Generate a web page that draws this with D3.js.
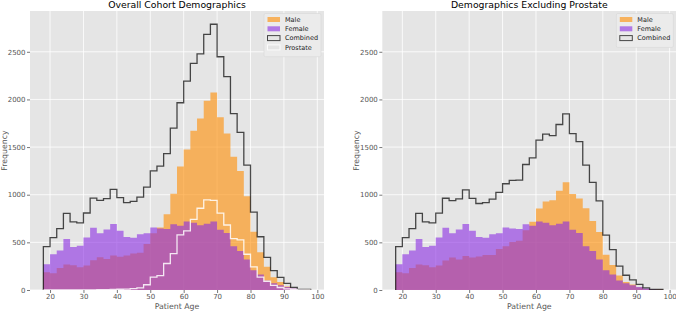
<!DOCTYPE html>
<html>
<head>
<meta charset="utf-8">
<script src="https://cdn.jsdelivr.net/npm/d3@7"></script>
<style>
body { margin: 0; background: #fff; }
svg { display: block; font-family: "DejaVu Sans", sans-serif; }
</style>
</head>
<body>
<script>
// histogram bins, 2 years wide, from 18 to 98
var binStarts = [18, 20, 22, 24, 26, 28, 30, 32, 34, 36, 38, 40, 42, 44, 46, 48, 50, 52, 54, 56,
                 58, 60, 62, 64, 66, 68, 70, 72, 74, 76, 78, 80, 82, 84, 86, 88, 90, 92, 94, 96];
var binWidth = 2;

// overall cohort
var maleAll = [185, 175, 230, 268, 260, 240, 258, 312, 345, 325, 363, 348, 362, 382, 390, 484, 595, 655, 795, 1010,
               1295, 1475, 1672, 1800, 1986, 2072, 1814, 1643, 1398, 1250, 985, 612, 397, 243, 133, 83, 38, 13, 3, 5];
var female = [270, 375, 415, 535, 452, 465, 550, 652, 595, 635, 692, 622, 555, 548, 585, 596, 655, 645, 640, 690,
              673, 720, 705, 680, 695, 720, 632, 598, 458, 408, 320, 206, 162, 100, 70, 50, 32, 15, 4, 2];
var combinedAll = [455, 550, 645, 805, 715, 705, 808, 965, 940, 960, 1056, 970, 918, 930, 975, 1080, 1250, 1300, 1432, 1699,
                   1965, 2192, 2378, 2479, 2682, 2789, 2448, 2240, 1850, 1655, 1311, 818, 559, 343, 203, 133, 70, 28, 7, 7];
var prostate = [0, 0, 0, 0, 0, 1, 1, 2, 3, 4, 6, 8, 10, 14, 22, 55, 135, 150, 278, 382,
                578, 620, 742, 858, 945, 940, 806, 682, 540, 525, 375, 243, 135, 92, 48, 26, 12, 5, 1, 0];

// excluding prostate
var maleExcl = [185, 175, 230, 268, 260, 239, 257, 310, 342, 321, 357, 340, 352, 368, 368, 429, 460, 505, 517, 628,
                717, 855, 930, 942, 1041, 1132, 1008, 961, 858, 725, 610, 369, 262, 151, 85, 57, 26, 8, 2, 5];
var combinedExcl = [455, 550, 645, 805, 715, 704, 807, 963, 937, 956, 1050, 962, 908, 916, 953, 1025, 1115, 1150, 1154, 1317,
                    1387, 1572, 1636, 1621, 1737, 1849, 1642, 1558, 1310, 1130, 936, 575, 424, 251, 155, 107, 58, 23, 6, 7];

var xTicks = [20, 30, 40, 50, 60, 70, 80, 90, 100];
var yTicks = [0, 500, 1000, 1500, 2000, 2500];

var svgWidth = 676, svgHeight = 311;
var plotTop = 11, plotBottom = 290, plotW = 294;

var svg = d3.select("body").append("svg")
    .attr("width", svgWidth)
    .attr("height", svgHeight);

var y = d3.scaleLinear().domain([0, 2928]).range([plotBottom, plotTop]);

function drawPanel(left, title, layers, legendItems) {
    var x = d3.scaleLinear().domain([14, 102]).range([left, left + plotW]);
    var g = svg.append("g");

    g.append("rect")
        .attr("x", left).attr("y", plotTop)
        .attr("width", plotW).attr("height", plotBottom - plotTop)
        .attr("fill", "#e5e5e5");

    // grid
    g.selectAll(".gx").data(xTicks).enter().append("line")
        .attr("x1", d => x(d)).attr("x2", d => x(d))
        .attr("y1", plotTop).attr("y2", plotBottom)
        .attr("stroke", "#fff").attr("stroke-width", 0.8);
    g.selectAll(".gy").data(yTicks).enter().append("line")
        .attr("x1", left).attr("x2", left + plotW)
        .attr("y1", d => y(d)).attr("y2", d => y(d))
        .attr("stroke", "#fff").attr("stroke-width", 0.8);

    layers.forEach(function(layer) {
        var pts = binStarts.map((b, i) => [b, layer.values[i]]);
        pts.push([binStarts[binStarts.length - 1] + binWidth, layer.values[layer.values.length - 1]]);
        if (layer.type == "bar") {
            var area = d3.area()
                .x(d => x(d[0]))
                .y0(y(0))
                .y1(d => y(d[1]))
                .curve(d3.curveStepAfter);
            g.append("path")
                .attr("d", area(pts))
                .attr("fill", layer.color)
                .attr("fill-opacity", 0.6);
        } else {
            var outline = [[binStarts[0], 0]].concat(pts);
            outline.push([binStarts[binStarts.length - 1] + binWidth, 0]);
            var line = d3.line()
                .x(d => x(d[0]))
                .y(d => y(d[1]))
                .curve(d3.curveStepAfter);
            g.append("path")
                .attr("d", line(outline))
                .attr("fill", "none")
                .attr("stroke", layer.color)
                .attr("stroke-opacity", layer.opacity)
                .attr("stroke-width", 1.3);
        }
    });

    // axes
    var xAxis = g.append("g")
        .attr("transform", "translate(0," + plotBottom + ")")
        .call(d3.axisBottom(x).tickValues(xTicks).tickSize(3).tickPadding(1.5));
    var yAxis = g.append("g")
        .attr("transform", "translate(" + left + ",0)")
        .call(d3.axisLeft(y).tickValues(yTicks).tickFormat(d3.format("d")).tickSize(3).tickPadding(1.5));
    [xAxis, yAxis].forEach(function(a) {
        a.select(".domain").remove();
        a.selectAll(".tick line").attr("stroke", "#555").attr("stroke-width", 0.8);
        a.selectAll(".tick text").attr("fill", "#555").style("font-size", "7px")
            .style("font-family", "DejaVu Sans");
    });

    g.append("text")
        .attr("x", left + plotW / 2).attr("y", 8.3)
        .attr("text-anchor", "middle")
        .style("font-size", "9.3px")
        .text(title);

    g.append("text")
        .attr("x", left + plotW / 2).attr("y", 308.5)
        .attr("text-anchor", "middle")
        .attr("fill", "#555")
        .style("font-size", "7.8px")
        .text("Patient Age");

    g.append("text")
        .attr("transform", "translate(" + (left - 23) + "," + ((plotTop + plotBottom) / 2) + ") rotate(-90)")
        .attr("text-anchor", "middle")
        .attr("fill", "#555")
        .style("font-size", "7.8px")
        .text("Frequency");

    // legend
    var lx = left + plotW - 60, ly = plotTop + 2.5;
    var lg = g.append("g").attr("transform", "translate(" + lx + "," + ly + ")");
    lg.append("rect")
        .attr("width", 57).attr("height", 6 + legendItems.length * 9.3)
        .attr("rx", 1.5)
        .attr("fill", "#ebebeb").attr("stroke", "#d6d6d6").attr("stroke-width", 0.6);
    legendItems.forEach(function(it, i) {
        var cy = 6 + i * 9.3;
        var r = lg.append("rect")
            .attr("x", 3.5).attr("y", cy - 2.5)
            .attr("width", 12.5).attr("height", 5);
        if (it.type == "bar") {
            r.attr("fill", it.color).attr("fill-opacity", 0.6);
        } else {
            r.attr("fill", "#e5e5e5")
                .attr("stroke", it.color).attr("stroke-opacity", it.opacity).attr("stroke-width", 1);
        }
        lg.append("text")
            .attr("x", 21).attr("y", cy + 2.3)
            .attr("fill", "#222")
            .style("font-size", "6.5px")
            .text(it.name);
    });
}

var maleLayer = {name: "Male", type: "bar", color: "#ff8c00"};
var femaleLayer = {name: "Female", type: "bar", color: "#8a2be2"};

drawPanel(30, "Overall Cohort Demographics", [
    Object.assign({values: maleAll}, maleLayer),
    Object.assign({values: female}, femaleLayer),
    {name: "Combined", type: "step", color: "#000", opacity: 0.7, values: combinedAll},
    {name: "Prostate", type: "step", color: "#fff", opacity: 0.85, values: prostate}
], [maleLayer, femaleLayer,
    {name: "Combined", type: "step", color: "#000", opacity: 0.7},
    {name: "Prostate", type: "step", color: "#fff", opacity: 0.85}]);

drawPanel(382.3, "Demographics Excluding Prostate", [
    Object.assign({values: maleExcl}, maleLayer),
    Object.assign({values: female}, femaleLayer),
    {name: "Combined", type: "step", color: "#000", opacity: 0.7, values: combinedExcl}
], [maleLayer, femaleLayer,
    {name: "Combined", type: "step", color: "#000", opacity: 0.7}]);
</script>
</body>
</html>
